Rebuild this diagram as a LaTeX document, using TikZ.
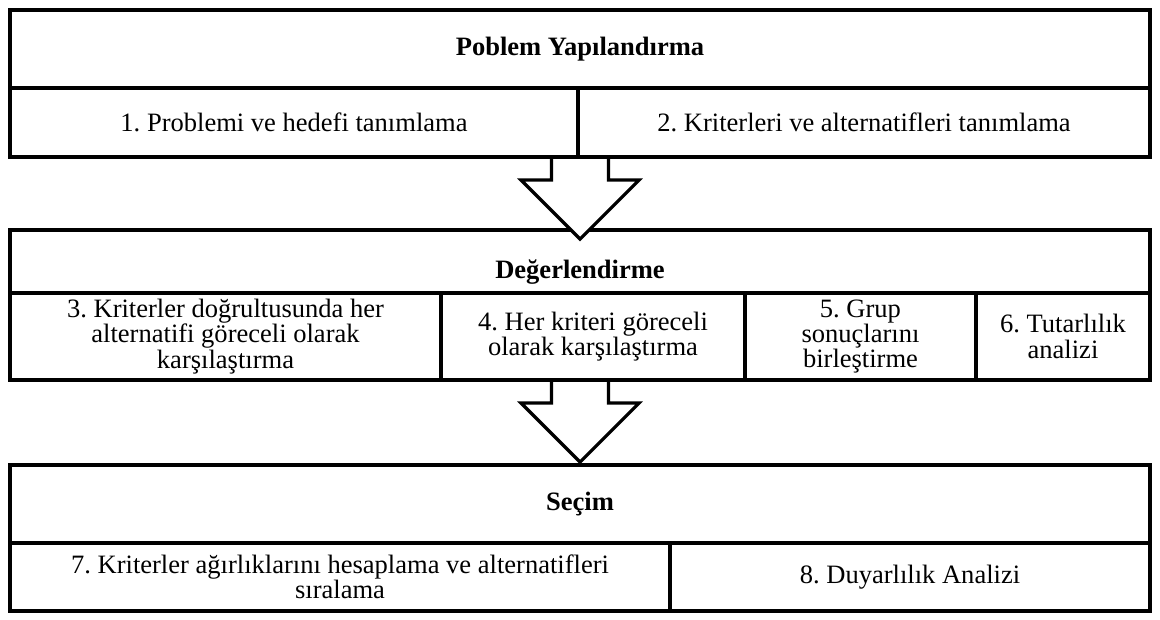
\documentclass[tikz,border=0pt]{standalone}
\usepackage{fontspec}
\setmainfont{Liberation Serif}
\usetikzlibrary{calc}
\frenchspacing
\newcommand\px{0.75pt}
\newcommand\fs{\fontsize{19.9pt}{18.9pt}\selectfont}
\begin{document}
\begin{tikzpicture}[x=0.75pt,y=-0.75pt,
  box/.style={draw, line width=3pt, inner sep=0pt, outer sep=0pt,
    anchor=north west, font=\fs, align=center},
  hdr/.style={box, minimum width={1140*\px}},
  bigarrow/.style={draw, line width=2.4pt, fill=white, line join=miter}]
\useasboundingbox (0,0) rectangle (1160,619);
% headers
\node[hdr, minimum height={78*\px}] (h1) at (10,10) {\bfseries Poblem Yapılandırma};
\node[hdr, minimum height={63*\px}, text height=24.8pt, text depth=0pt] (h2) at (10,230) {\bfseries Değerlendirme};
\node[hdr, minimum height={78*\px}] (h3) at (10,465) {\bfseries Seçim};
% row 1
\node[box, minimum width={568*\px}, minimum height={69*\px}] (c1) at (10,88) {1. Problemi ve hedefi tanımlama};
\node[box, minimum width={572*\px}, minimum height={69*\px}] (c2) at (578,88) {2. Kriterleri ve alternatifleri tanımlama};
% row 2
\node[box, minimum width={431*\px}, minimum height={87*\px}] (c3) at (10,293) {3. Kriterler doğrultusunda her\\alternatifi göreceli olarak\\karşılaştırma};
\node[box, minimum width={304*\px}, minimum height={87*\px}] (c4) at (441,293) {4. Her kriteri göreceli\\olarak karşılaştırma};
\node[box, minimum width={231*\px}, minimum height={87*\px}] (c5) at (745,293) {5. Grup\\sonuçlarını\\birleştirme};
\node[box, minimum width={174*\px}, minimum height={87*\px}] (c6) at (976,293) {6. Tutarlılık\\analizi};
% row 3
\node[box, minimum width={660*\px}, minimum height={68*\px}] (c7) at (10,543) {7. Kriterler ağırlıklarını hesaplama ve alternatifleri\\sıralama};
\node[box, minimum width={480*\px}, minimum height={68*\px}] (c8) at (670,543) {8. Duyarlılık Analizi};
% arrows
\coordinate (a1) at (h1.south |- c1.south);
\coordinate (a2) at (h2.south |- c3.south);
\foreach \a in {a1,a2}{
  \draw[bigarrow] ($(\a)+(-28.5,2)$) -- ($(\a)+(-28.5,23)$) -- ($(\a)+(-59,23)$)
    -- ($(\a)+(0,82)$) -- ($(\a)+(59,23)$) -- ($(\a)+(28.5,23)$) -- ($(\a)+(28.5,2)$);
}
\end{tikzpicture}
\end{document}
